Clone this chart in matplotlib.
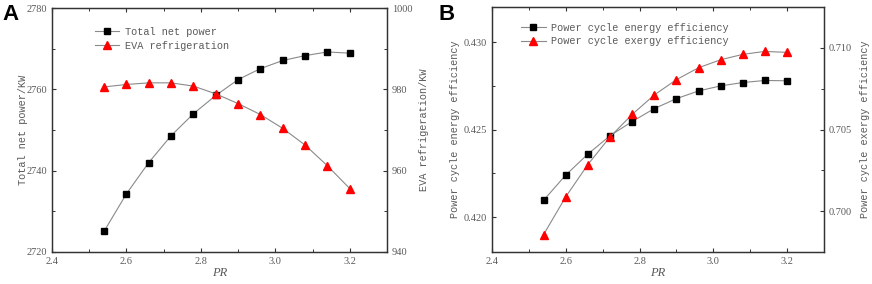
import matplotlib
matplotlib.use("Agg")
import matplotlib.pyplot as plt
from matplotlib.ticker import MultipleLocator, AutoMinorLocator, FormatStrFormatter

# pressure ratio
pr = [2.54, 2.60, 2.66, 2.72, 2.78, 2.84, 2.90, 2.96, 3.02, 3.08, 3.14, 3.20]

# panel A
net_power = [2725.1, 2734.3, 2742.0, 2748.6, 2754.0, 2758.5, 2762.4, 2765.1,
             2767.1, 2768.3, 2769.2, 2768.9]
eva_refrig = [980.6, 981.2, 981.6, 981.6, 980.8, 978.9, 976.5, 973.8,
              970.4, 966.3, 961.2, 955.6]

# panel B
energy_eff = [0.42096, 0.4224, 0.4236, 0.42465, 0.42546, 0.4262, 0.42677,
              0.42721, 0.4275, 0.42769, 0.42781, 0.42779]
exergy_eff = [0.69857, 0.70088, 0.70286, 0.70455, 0.70593, 0.70712, 0.70806,
              0.70879, 0.70928, 0.70961, 0.70979, 0.70973]

MONO = "Liberation Mono"
SERIF = "Liberation Serif"
TXT = "#5a5a5a"
LINE = "#8a8a8a"
FS = 7.4


def style(ax, sides):
    for s in ax.spines.values():
        s.set_color("#333333")
        s.set_linewidth(0.9)
    ax.tick_params(which="both", direction="in", colors="#333333",
                   labelcolor=TXT, labelsize=7.5, **sides)
    ax.tick_params(which="major", length=3, width=0.8)
    ax.tick_params(which="minor", length=2, width=0.7)
    for lab in ax.get_xticklabels() + ax.get_yticklabels():
        lab.set_fontfamily(SERIF)


fig = plt.figure(figsize=(8.72, 2.84), dpi=100)

# ---------- panel A ----------
axA = fig.add_axes([0.0596, 0.1127, 0.3842, 0.859])
axA2 = axA.twinx()
l1, = axA.plot(pr, net_power, color=LINE, lw=0.8, marker="s", ms=5,
               mfc="black", mec="black", label="Total net power")
l2, = axA2.plot(pr, eva_refrig, color=LINE, lw=0.8, marker="^", ms=6,
                mfc="red", mec="red", label="EVA refrigeration")
axA.set_xlim(2.4, 3.3)
axA.set_ylim(2720, 2780)
axA2.set_ylim(940, 1000)
axA.xaxis.set_major_locator(MultipleLocator(0.2))
axA.xaxis.set_minor_locator(AutoMinorLocator(2))
axA.xaxis.set_major_formatter(FormatStrFormatter("%.1f"))
axA.yaxis.set_major_locator(MultipleLocator(20))
axA.yaxis.set_minor_locator(AutoMinorLocator(2))
axA2.yaxis.set_major_locator(MultipleLocator(20))
axA2.yaxis.set_minor_locator(AutoMinorLocator(2))
style(axA, dict(top=True, right=False))
style(axA2, dict(top=False, left=False, right=True))
axA.set_xlabel("PR", family=SERIF, style="italic", color=TXT, fontsize=9, labelpad=1)
axA.set_ylabel("Total net power/KW", family=MONO, color=TXT, fontsize=FS, labelpad=-1)
axA2.set_ylabel("EVA refrigeration/KW", family=MONO, color=TXT, fontsize=FS, labelpad=5)
leg = axA.legend(handles=[l1, l2], loc="upper left", bbox_to_anchor=(0.1, 0.96),
                 frameon=False, prop={"family": MONO, "size": FS}, handlelength=2.4,
                 handletextpad=0.5, labelspacing=0.35)
for t in leg.get_texts():
    t.set_color(TXT)
fig.text(0.003, 0.985, "A", family="Liberation Sans", weight="bold", fontsize=16,
         va="top", ha="left")

# ---------- panel B ----------
axB = fig.add_axes([0.5642, 0.1127, 0.3807, 0.862])
axB2 = axB.twinx()
m1, = axB.plot(pr, energy_eff, color=LINE, lw=0.8, marker="s", ms=5,
               mfc="black", mec="black", label="Power cycle energy efficiency")
m2, = axB2.plot(pr, exergy_eff, color=LINE, lw=0.8, marker="^", ms=6,
                mfc="red", mec="red", label="Power cycle exergy efficiency")
axB.set_xlim(2.4, 3.3)
axB.set_ylim(0.418, 0.432)
axB2.set_ylim(0.6975, 0.7125)
axB.xaxis.set_major_locator(MultipleLocator(0.2))
axB.xaxis.set_minor_locator(AutoMinorLocator(2))
axB.xaxis.set_major_formatter(FormatStrFormatter("%.1f"))
axB.yaxis.set_major_locator(MultipleLocator(0.005))
axB.yaxis.set_minor_locator(AutoMinorLocator(2))
axB.yaxis.set_major_formatter(FormatStrFormatter("%.3f"))
axB2.yaxis.set_major_locator(MultipleLocator(0.005))
axB2.yaxis.set_minor_locator(AutoMinorLocator(2))
axB2.yaxis.set_major_formatter(FormatStrFormatter("%.3f"))
style(axB, dict(top=True, right=False))
style(axB2, dict(top=False, left=False, right=True))
axB.set_xlabel("PR", family=SERIF, style="italic", color=TXT, fontsize=9, labelpad=1)
axB.set_ylabel("Power cycle energy efficiency", family=MONO, color=TXT, fontsize=FS, labelpad=3)
axB2.set_ylabel("Power cycle exergy efficiency", family=MONO, color=TXT, fontsize=FS, labelpad=6)
leg = axB.legend(handles=[m1, m2], loc="upper left", bbox_to_anchor=(0.06, 0.975),
                 frameon=False, prop={"family": MONO, "size": FS}, handlelength=2.4,
                 handletextpad=0.5, labelspacing=0.35)
for t in leg.get_texts():
    t.set_color(TXT)
fig.text(0.503, 0.985, "B", family="Liberation Sans", weight="bold", fontsize=16,
         va="top", ha="left")

fig.savefig("out.png", dpi=100)
